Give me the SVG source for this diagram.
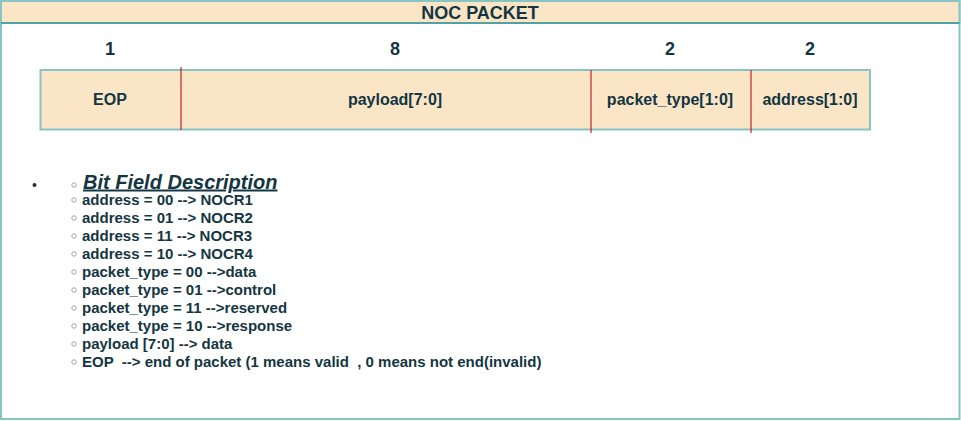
<svg xmlns="http://www.w3.org/2000/svg" width="961" height="421" viewBox="0 0 961 421">
<style>
text{font-family:"Liberation Sans",Arial,sans-serif;font-weight:bold;fill:#143642;white-space:pre}
.num{font-size:18px;text-anchor:middle}
.fld{font-size:16px;text-anchor:middle}
.li{font-size:15px}
.cir{fill:none;stroke:#9a9a9a;stroke-width:0.9}
.div{stroke:#b20000;stroke-width:1}
</style>
<rect width="961" height="421" fill="#ffffff"/>
<g id="container">
<rect x="1" y="1" width="958.5" height="418" fill="#ffffff" stroke="#88c4c4" stroke-width="2"/>
<rect x="1" y="1" width="958.5" height="22" fill="#fae5c7" stroke="#88c4c4" stroke-width="2"/>
<line x1="1" y1="23" x2="959.5" y2="23" stroke="#1a8080" stroke-width="1"/>
<text x="480" y="18.5" font-size="18" text-anchor="middle">NOC PACKET</text>
</g>
<g id="bits">
<text class="num" x="110" y="54.5">1</text>
<text class="num" x="395" y="54.5">8</text>
<text class="num" x="670" y="54.5">2</text>
<text class="num" x="810" y="54.5">2</text>
</g>
<g id="packet">
<rect x="40.5" y="70" width="829.5" height="59.5" fill="#fae5c7" stroke="#88c4c4" stroke-width="2"/>
</g>
<g id="connectors">
<line class="div" x1="181" y1="67" x2="181" y2="130"/>
<line class="div" x1="591" y1="70" x2="591" y2="133"/>
<line class="div" x1="751" y1="70" x2="751" y2="133"/>
</g>
<g id="fields">
<text class="fld" x="110" y="104.5">EOP</text>
<text class="fld" x="395" y="104.5">payload[7:0]</text>
<text class="fld" x="670" y="104.5">packet_type[1:0]</text>
<text class="fld" x="810" y="104.5">address[1:0]</text>
</g>
<g id="description">
<circle cx="34.5" cy="185" r="2" fill="#143642"/>
<circle class="cir" cx="74" cy="185" r="2.2"/>
<text x="83" y="188.5" font-size="20" font-style="italic" text-decoration="underline">Bit Field Description</text>
<circle class="cir" cx="74" cy="200" r="2.2"/><text class="li" x="82" y="205">address = 00 --&gt; NOCR1</text>
<circle class="cir" cx="74" cy="218" r="2.2"/><text class="li" x="82" y="223">address = 01 --&gt; NOCR2</text>
<circle class="cir" cx="74" cy="236" r="2.2"/><text class="li" x="82" y="241">address = 11 --&gt; NOCR3</text>
<circle class="cir" cx="74" cy="254" r="2.2"/><text class="li" x="82" y="259">address = 10 --&gt; NOCR4</text>
<circle class="cir" cx="74" cy="272" r="2.2"/><text class="li" x="82" y="277">packet_type = 00 --&gt;data</text>
<circle class="cir" cx="74" cy="290" r="2.2"/><text class="li" x="82" y="295">packet_type = 01 --&gt;control</text>
<circle class="cir" cx="74" cy="308" r="2.2"/><text class="li" x="82" y="313">packet_type = 11 --&gt;reserved</text>
<circle class="cir" cx="74" cy="326" r="2.2"/><text class="li" x="82" y="331">packet_type = 10 --&gt;response</text>
<circle class="cir" cx="74" cy="344" r="2.2"/><text class="li" x="82" y="349">payload [7:0] --&gt; data</text>
<circle class="cir" cx="74" cy="362" r="2.2"/><text class="li" x="82" y="367">EOP  --&gt; end of packet (1 means valid  , 0 means not end(invalid)</text>
</g>
</svg>
